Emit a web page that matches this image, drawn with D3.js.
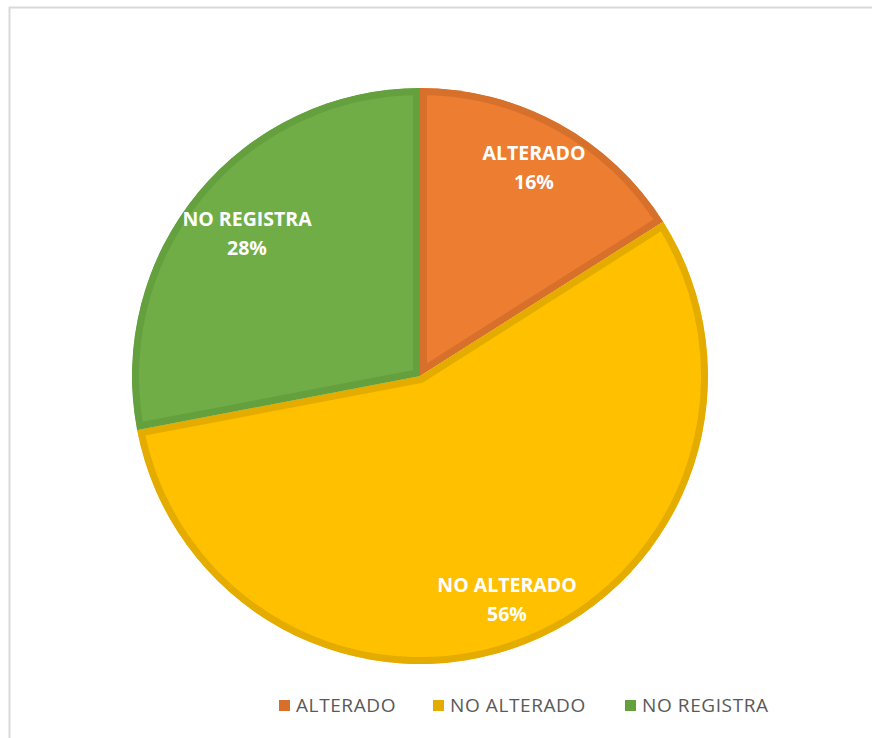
<!DOCTYPE html>
<html>
<head>
<meta charset="utf-8">
<script src="https://cdn.jsdelivr.net/npm/d3@7"></script>
<style>
  body { margin: 0; background: #fff; }
</style>
</head>
<body>
<div id="chart"></div>
<script>
// chart data
var categories = ["ALTERADO", "NO ALTERADO", "NO REGISTRA"];
var percents = [16, 56, 28];
var fills = ["#ED7D31", "#FFC000", "#70AD47"];
var edges = ["#D7702B", "#E5AC00", "#64A03E"];

var svgWidth = 872;
var svgHeight = 738;
var cx = 420, cy = 376, radius = 288;

var svg = d3.select("#chart")
    .append("svg")
    .attr("width", svgWidth)
    .attr("height", svgHeight);

// frame of the chart area (cut at right and bottom)
svg.append("path")
    .attr("d", "M9.5,740 L9.5,7.5 L880,7.5")
    .attr("fill", "none")
    .attr("stroke", "#d9d9d9")
    .attr("stroke-width", 2);

var pie = d3.pie().sort(null).value(d => d);
var arcs = pie(percents);
var arc = d3.arc().innerRadius(0).outerRadius(radius);

var pieGroup = svg.append("g")
    .attr("transform", `translate(${cx}, ${cy})`);

var defs = svg.append("defs");
arcs.forEach(function(a, i) {
    defs.append("clipPath")
        .attr("id", "clip" + i)
        .append("path")
        .attr("d", arc(a));
});

// slices with an inner darker border
pieGroup.selectAll("path.slice")
    .data(arcs)
    .enter()
    .append("path")
    .attr("class", "slice")
    .attr("d", arc)
    .attr("fill", (d, i) => fills[i])
    .attr("stroke", (d, i) => edges[i])
    .attr("stroke-width", 14)
    .attr("stroke-linejoin", "miter")
    .attr("clip-path", (d, i) => `url(#clip${i})`);

// labels
var labelPos = [[114, -216], [87, 216], [-173, -150]];
var labels = pieGroup.selectAll("text.lbl")
    .data(arcs)
    .enter()
    .append("text")
    .attr("class", "lbl")
    .attr("text-anchor", "middle")
    .attr("fill", "#fff")
    .style("font-family", "Open Sans, sans-serif")
    .style("font-weight", "bold")
    .style("font-size", "19.5px");

labels.append("tspan")
    .attr("x", (d, i) => labelPos[i][0])
    .attr("y", (d, i) => labelPos[i][1])
    .text((d, i) => categories[i]);
labels.append("tspan")
    .attr("x", (d, i) => labelPos[i][0])
    .attr("y", (d, i) => labelPos[i][1] + 29)
    .text((d, i) => percents[i] + "%");

// legend
var legendX = [279, 433, 625];
var legend = svg.append("g").selectAll("g")
    .data(categories)
    .enter()
    .append("g")
    .attr("transform", (d, i) => `translate(${legendX[i]}, 705)`);

legend.append("rect")
    .attr("x", 0)
    .attr("y", -5)
    .attr("width", 11)
    .attr("height", 11)
    .attr("fill", (d, i) => edges[i]);

legend.append("text")
    .attr("x", 17)
    .attr("y", 7)
    .attr("fill", "#595959")
    .style("font-family", "Open Sans, sans-serif")
    .style("font-size", "19px")
    .style("letter-spacing", "0.6px")
    .text(d => d);
</script>
</body>
</html>
